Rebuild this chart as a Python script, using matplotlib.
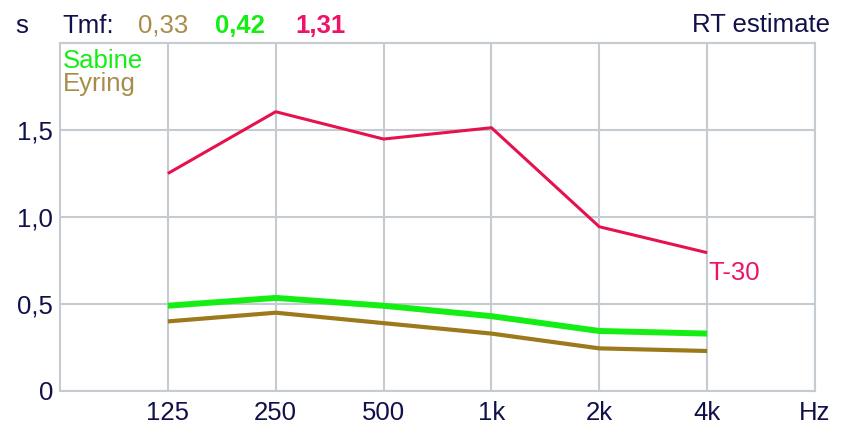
import matplotlib
matplotlib.use("Agg")
from matplotlib import pyplot as plt
import numpy as np

# octave band centres (Hz) and labels
freqs = [125, 250, 500, 1000, 2000, 4000]
tick_labels = ["125", "250", "500", "1k", "2k", "4k"]

# reverberation times (s)
t30 = [1.25, 1.605, 1.448, 1.513, 0.944, 0.795]
sabine = [0.49, 0.535, 0.49, 0.43, 0.345, 0.33]
eyring = [0.40, 0.45, 0.39, 0.33, 0.245, 0.23]

tmf_labels = ["0,33", "0,42", "1,31"]

navy = "#10104a"
grid_col = "#c4ccd2"
green = "#14ee14"
brown = "#9c7a1c"
brown_txt = "#a88c4c"
red = "#e6124e"
red_txt = "#ee1268"
fs = 18.5

plt.rcParams['font.family'] = ['Liberation Sans', 'DejaVu Sans']

W, H = 851, 428
fig = plt.figure(figsize=(W / 100, H / 100), dpi=100)
ax = fig.add_axes([60 / W, 1 - 391 / H, (815 - 60) / W, (391 - 43) / H])

ax.set_xscale("log", base=2)
ax.set_xlim(62.5, 8000)
ax.set_ylim(0, 2.0)

ax.plot(freqs, eyring, color=brown, lw=3.0, solid_capstyle="butt")
ax.plot(freqs, sabine, color=green, lw=4.3, solid_capstyle="butt")
ax.plot(freqs, t30, color=red, lw=2.2, solid_capstyle="butt")

ax.set_xticks(freqs + [8000])
ax.set_xticklabels(tick_labels + ["Hz"])
ax.minorticks_off()
ax.set_yticks([0, 0.5, 1.0, 1.5])
ax.set_yticklabels(["0", "0,5", "1,0", "1,5"])
ax.tick_params(length=0, labelsize=fs, labelcolor=navy)
ax.tick_params(axis="x", pad=7)
ax.tick_params(axis="y", pad=5)
ax.grid(True, color=grid_col, lw=1.5)
for sp in ax.spines.values():
    sp.set_color(grid_col)
    sp.set_linewidth(1.5)

# header texts
def ftext(x, y, s, **kw):
    fig.text(x / W, 1 - y / H, s, fontsize=fs, va="baseline", **kw)

ftext(22, 33, "s", color=navy, ha="center")
ftext(62, 33, "Tmf:", color=navy)
ftext(138, 33, tmf_labels[0], color=brown_txt)
ftext(215, 33, tmf_labels[1], color=green, fontweight="bold")
ftext(295, 33, tmf_labels[2], color=red_txt, fontweight="bold")
ftext(830, 32, "RT estimate", color=navy, ha="right")

ftext(63, 68, "Sabine", color=green)
ftext(63, 91, "Eyring", color=brown_txt)

ax.annotate("T-30", (freqs[-1], t30[-1]), xytext=(1, -27),
            textcoords="offset pixels", color=red_txt, fontsize=fs,
            va="baseline", ha="left")

fig.savefig("out.png", dpi=100, facecolor="white")
